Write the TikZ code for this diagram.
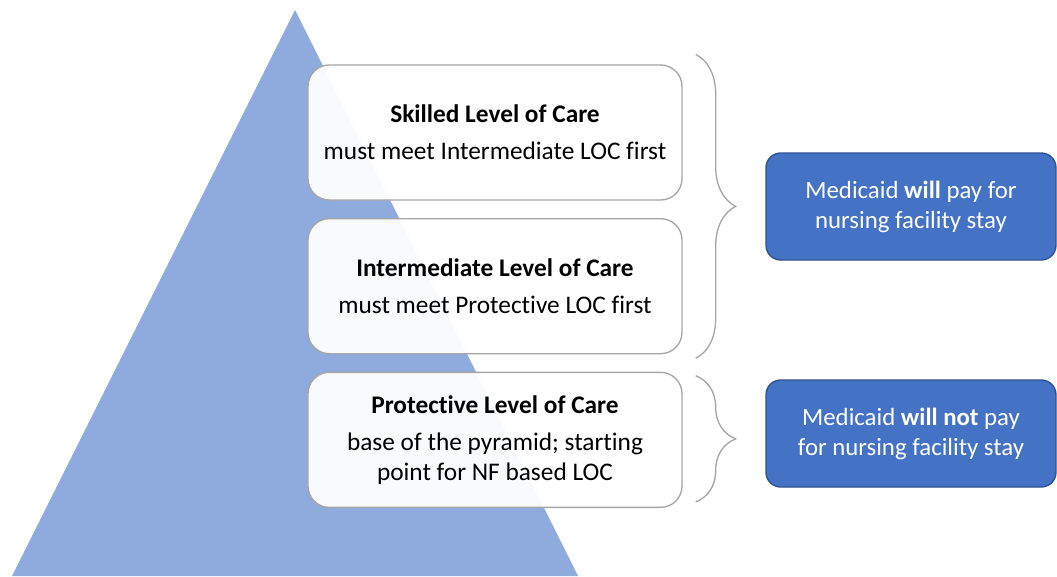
\documentclass[tikz,border=0pt]{standalone}
\usepackage{fontspec}
\setmainfont[RawFeature={-liga;-clig;-calt}]{Carlito}
\usepackage{tikz}
\usetikzlibrary{positioning, calc, decorations.pathreplacing}
\definecolor{pyramidblue}{HTML}{8FAADC}
\definecolor{payblue}{HTML}{4472C4}
\definecolor{payedge}{HTML}{2F528F}
\definecolor{bracegray}{HTML}{A6A6A6}

\begin{document}
\begin{tikzpicture}[
    x=0.75pt, y=-0.75pt,
    node distance=13pt,
    level/.style={rectangle, rounded corners=16pt, draw=bracegray, line width=1pt, fill=white, fill opacity=0.94, text opacity=1, minimum width=280.5pt, minimum height=101.25pt, align=center, font=\fontsize{19}{22.5}\selectfont},
    pay/.style={rectangle, rounded corners=11pt, draw=payedge, line width=1pt, fill=payblue, text=white, minimum width=217.5pt, minimum height=80.25pt, align=center, font=\fontsize{18.6}{22.5}\selectfont},
    bracket/.style={decorate, decoration={brace, amplitude=30pt}, draw=bracegray, line width=1pt}
]
    \useasboundingbox (0,0) rectangle (1057,576);

    % Pyramid
    \coordinate (apex) at (295,10);
    \fill[pyramidblue] (apex) -- (578,576) -- (12,576) -- cycle;

    % Levels of care
    \node[level] (skilled) at (495,132.5) {\textbf{Skilled Level of Care}\\[5pt] must meet Intermediate LOC first};
    \node[level, below=of skilled] (intermediate) {\textbf{Intermediate Level of Care}\\[5pt] must meet Protective LOC first};
    \node[level, below=of intermediate] (protective) {\textbf{Protective Level of Care}\\[5pt] base of the pyramid; starting\\ point for NF based LOC};

    % Braces
    \draw[bracket] ($(skilled.north east)+(13,-10)$) -- ($(intermediate.south east)+(13,4)$);
    \draw[bracket] ($(protective.north east)+(13,4)$) -- ($(protective.south east)+(13,-6)$);

    % Medicaid payment
    \node[pay] (will) at (911,206.5) {Medicaid \textbf{will} pay for\\ nursing facility stay};
    \node[pay] (willnot) at (911,433.5) {Medicaid \textbf{will not} pay\\ for nursing facility stay};
\end{tikzpicture}
\end{document}
